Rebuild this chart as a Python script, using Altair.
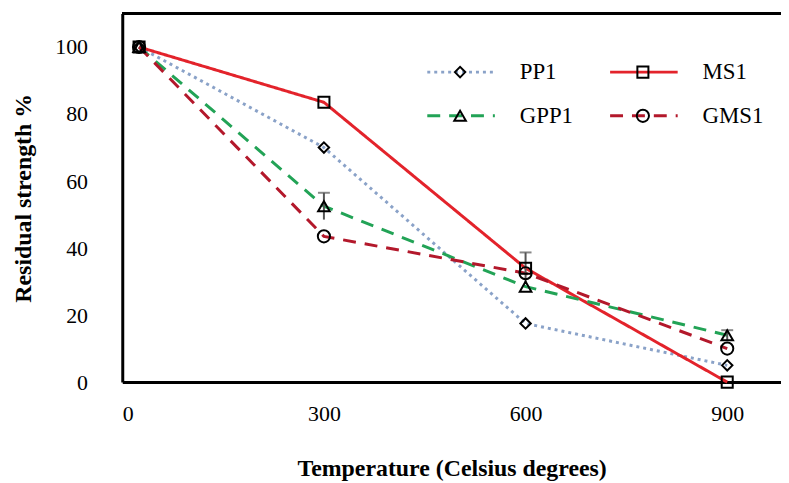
import altair as alt
import pandas as pd

# ---- data ----
temps = [25, 300, 600, 900]
series = ["PP1", "MS1", "GPP1", "GMS1"]
pp1 = [100, 70, 17.5, 5]
ms1 = [100, 83.5, 34, 0]
gpp1 = [100, 52.5, 28.5, 14]
gms1 = [100, 43.5, 32.5, 10]

err_series = ["GPP1", "MS1", "GPP1"]
err_temps = [300, 600, 900]
err_vals = [52.5, 34, 14]
err_sd = [4, 4.7, 1.5]

y_ticks = [0, 20, 40, 60, 80, 100]
x_ticks = [0, 300, 600, 900]

# ---- styles ----
colors = ["#8aa2c8", "#e3232b", "#22a356", "#b3182b"]
dashes = [[3, 4], [1, 0], [13, 9], [13, 9]]
shapes = ["diamond", "square", "triangle-up", "circle"]
sizes = [110, 150, 140, 130]

values = {"PP1": pp1, "MS1": ms1, "GPP1": gpp1, "GMS1": gms1}
rows = []
for s in series:
    for t, v in zip(temps, values[s]):
        rows.append({"series": s, "temp": t, "value": v})
df = pd.DataFrame(rows)

err = pd.DataFrame({
    "series": err_series, "temp": err_temps,
    "lo": [v - e for v, e in zip(err_vals, err_sd)],
    "hi": [v + e for v, e in zip(err_vals, err_sd)],
})

FONT = "Liberation Serif"
xs = alt.Scale(domain=[0, 980], nice=False, zero=False)
ys = alt.Scale(domain=[0, 110], nice=False)
cscale = alt.Scale(domain=series, range=colors)
dscale = alt.Scale(domain=series, range=dashes)
shscale = alt.Scale(domain=series, range=shapes)
szscale = alt.Scale(domain=series, range=sizes)

X = alt.X("temp:Q", scale=xs, axis=alt.Axis(
    values=x_ticks, title="Temperature (Celsius degrees)", ticks=False, grid=False,
    labelPadding=22, titlePadding=32, domainColor="black", domainWidth=3))
Y = alt.Y("value:Q", scale=ys, axis=alt.Axis(
    values=y_ticks, title="Residual strength %", ticks=False, grid=False,
    labelPadding=35, titlePadding=19, domainColor="black", domainWidth=3))

lines = alt.Chart(df).mark_line(strokeWidth=3).encode(
    x=X, y=Y,
    color=alt.Color("series:N", scale=cscale, legend=None),
    strokeDash=alt.StrokeDash("series:N", scale=dscale, legend=None),
    detail="series:N",
)

errs = alt.Chart(err).mark_rule(color="#555555", strokeWidth=2).encode(
    x=alt.X("temp:Q", scale=xs), y=alt.Y("lo:Q", scale=ys), y2="hi:Q")
caps = alt.Chart(err).mark_tick(color="#555555", thickness=2, size=12, orient="horizontal").encode(
    x=alt.X("temp:Q", scale=xs), y=alt.Y("hi:Q", scale=ys))

points = alt.Chart(df).mark_point(filled=False, color="black", strokeWidth=2, opacity=1).encode(
    x=alt.X("temp:Q", scale=xs), y=alt.Y("value:Q", scale=ys),
    shape=alt.Shape("series:N", scale=shscale, legend=None),
    size=alt.Size("series:N", scale=szscale, legend=None),
)

top = alt.Chart(df).mark_rule(color="black", strokeWidth=3).encode(y=alt.datum(110, scale=ys))

# ---- custom legend (line + marker + label), two columns ----
leg = pd.DataFrame({"series": series, "col": [0, 1, 0, 1], "row": [0, 0, 1, 1]})
base_leg = alt.Chart(leg).transform_calculate(
    lx="307 + datum.col * 184",
    ly="59 + datum.row * 44",
    lx2="datum.lx + 68",
    mx="datum.lx + 33",
    tx="datum.lx + 93",
)
leg_lines = base_leg.mark_rule(strokeWidth=3).encode(
    x=alt.X("lx:Q", scale=None), x2="lx2:Q", y=alt.Y("ly:Q", scale=None),
    color=alt.Color("series:N", scale=cscale, legend=None),
    strokeDash=alt.StrokeDash("series:N", scale=dscale, legend=None),
)
leg_pts = base_leg.mark_point(filled=False, color="black", strokeWidth=2, opacity=1).encode(
    x=alt.X("mx:Q", scale=None), y=alt.Y("ly:Q", scale=None),
    shape=alt.Shape("series:N", scale=shscale, legend=None),
    size=alt.Size("series:N", scale=szscale, legend=None),
)
leg_txt = base_leg.mark_text(align="left", baseline="middle", font=FONT, fontSize=23, color="black").encode(
    x=alt.X("tx:Q", scale=None), y=alt.Y("ly:Q", scale=None), text="series:N")

chart = alt.layer(top, lines, errs, caps, points, leg_lines, leg_pts, leg_txt).properties(
    width=663, height=371,
    autosize=alt.AutoSizeParams(type="none"),
    padding={"left": 115, "top": 4, "right": 0, "bottom": 100},
).configure_view(stroke=None).configure_axis(
    labelFont=FONT, labelFontSize=22, labelColor="black",
    titleFont=FONT, titleFontSize=24, titleFontWeight="bold", titleColor="black",
)

chart.save("out.html", embed_options={"renderer": "svg", "actions": False})
